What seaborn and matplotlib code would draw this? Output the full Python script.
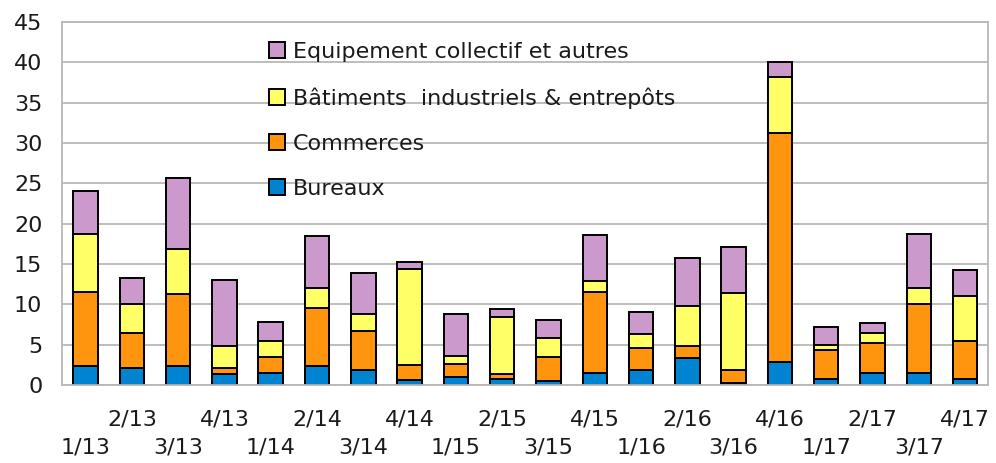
import numpy as np
import pandas as pd
import matplotlib
matplotlib.use("Agg")
import matplotlib.pyplot as plt
import seaborn as sns

quarters = ["1/13", "2/13", "3/13", "4/13",
            "1/14", "2/14", "3/14", "4/14",
            "1/15", "2/15", "3/15", "4/15",
            "1/16", "2/16", "3/16", "4/16",
            "1/17", "2/17", "3/17", "4/17"]

bureaux = [2.3, 2.1, 2.3, 1.3, 1.5, 2.3, 1.9, 0.6, 1.0, 0.8,
           0.55, 1.5, 1.8, 3.3, 0.3, 2.8, 0.8, 1.5, 1.5, 0.7]
commerces = [9.2, 4.4, 9.0, 0.8, 2.0, 7.2, 4.8, 1.9, 1.55, 0.55,
             2.95, 10.0, 2.75, 1.5, 1.5, 28.5, 3.55, 3.75, 8.5, 4.8]
batiments = [7.2, 3.5, 5.6, 2.7, 2.0, 2.5, 2.1, 11.9, 1.05, 7.1,
             2.3, 1.4, 1.75, 4.95, 9.65, 6.9, 0.6, 1.25, 2.0, 5.5]
equipement = [5.4, 3.3, 8.7, 8.25, 2.35, 6.5, 5.1, 0.8, 5.15, 1.0,
              2.2, 5.7, 2.7, 6.0, 5.7, 1.8, 2.3, 1.2, 6.7, 3.2]

series = ["Bureaux", "Commerces", "Bâtiments  industriels & entrepôts",
          "Equipement collectif et autres"]
colors = ["#0084d1", "#ff950e", "#ffff66", "#cc99cc"]

df = pd.DataFrame({
    "quarter": quarters,
    series[0]: bureaux,
    series[1]: commerces,
    series[2]: batiments,
    series[3]: equipement,
})
# cumulative heights for stacking
cum = df[series].cumsum(axis=1)
cum["quarter"] = quarters

sns.set_style("white")
plt.rcParams["font.family"] = ["DejaVu Sans"]

fig = plt.figure(figsize=(9.96, 4.63), dpi=100)
ax = fig.add_axes([0.0627, 0.1685, 0.9295, 0.784])

# draw from the top layer down so each lower layer covers the one above
for name, col in zip(series[::-1], colors[::-1]):
    sns.barplot(data=cum, x="quarter", y=name, order=quarters, color=col,
                saturation=1, width=0.53, edgecolor="black", linewidth=1.4,
                label=name, ax=ax)

grid_col = "#b8b8b8"
txt_col = "#1a1a1a"
ax.set_ylim(0, 45)
ax.set_xlim(-0.5, 19.5)
ax.set_yticks(np.arange(0, 46, 5))
ax.yaxis.grid(True, color=grid_col, linewidth=1.3)
ax.set_axisbelow(True)
for sp in ax.spines.values():
    sp.set_color(grid_col)
    sp.set_linewidth(1.3)

xlabels = [("\n" + q) if i % 2 == 0 else q for i, q in enumerate(quarters)]
ax.set_xticks(range(len(quarters)))
ax.set_xticklabels(xlabels, fontsize=16, color=txt_col, linespacing=1.45)
ax.set_xticks(np.arange(-0.5, 20, 1), minor=True)
ax.tick_params(axis="x", which="major", length=0, pad=18)
ax.tick_params(axis="x", which="minor", length=8, width=1.3, color=grid_col)
ax.tick_params(axis="y", length=8.5, width=1.3, color=grid_col, pad=6,
               labelsize=16, labelcolor=txt_col)
ax.set_xlabel("")
ax.set_ylabel("")

leg = ax.legend(loc="upper left", bbox_to_anchor=(269 / 996, 1 - 42 / 463),
                bbox_transform=fig.transFigure, frameon=False, fontsize=16,
                borderpad=0, borderaxespad=0, handlelength=0.73,
                handleheight=0.73, handletextpad=0.36, labelspacing=1.13)
for t in leg.get_texts():
    t.set_color(txt_col)

fig.savefig("out.png", dpi=100)
